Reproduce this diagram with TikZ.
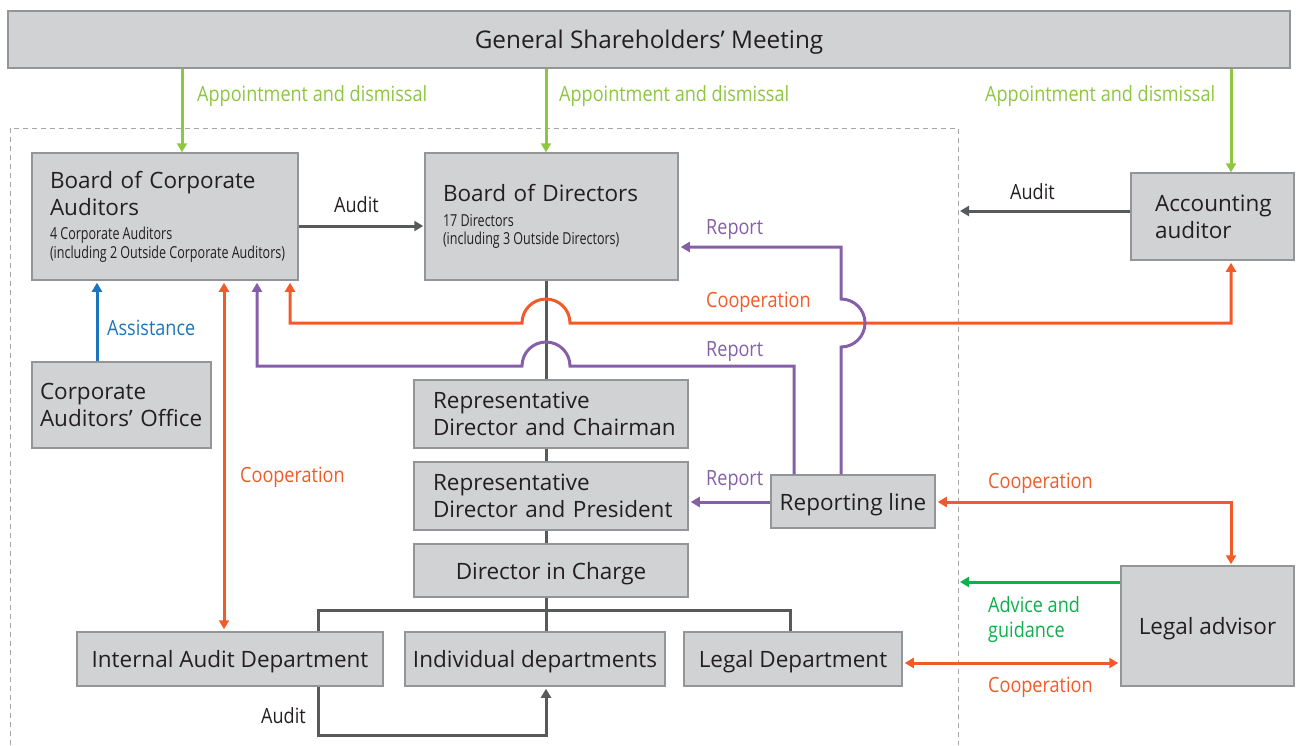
\documentclass[tikz,border=0pt]{standalone}
\usepackage{fontspec}
\setmainfont{Open Sans}
\newfontfamily\cond[FakeStretch=0.86]{Open Sans}
\newfontfamily\condsm[FakeStretch=0.76]{Open Sans}
\usetikzlibrary{arrows.meta}
\definecolor{boxfill}{HTML}{D1D2D4}
\definecolor{boxline}{HTML}{939598}
\definecolor{lgreen}{HTML}{8DC63F}
\definecolor{dgreen}{HTML}{0DB04B}
\definecolor{orng}{HTML}{F15A29}
\definecolor{purp}{HTML}{8560A8}
\definecolor{blu}{HTML}{1C75BC}
\definecolor{dgray}{HTML}{58595B}
\definecolor{txt}{HTML}{231F20}
\newcommand{\smallinfo}[1]{\par\vspace{6pt}{\condsm\fontsize{16.5}{18.5}\selectfont\spaceskip=3.2pt plus 1pt minus 1pt\relax #1\par}}
\tikzset{
  box/.style={draw=boxline, fill=boxfill, line width=1.5pt, inner sep=0pt, text=txt,
    font=\fontsize{22.5}{27}\selectfont},
  sbox/.style={box, text depth=0pt},
  conn/.style={line width=3pt},
  tip/.style={-{Triangle[length=9pt,width=10pt]}},
  tips/.style={{Triangle[length=9pt,width=10pt]}-{Triangle[length=9pt,width=10pt]}},
  lbl/.style={anchor=west, inner sep=0pt, font=\cond\fontsize{21}{26}\selectfont},
}
\begin{document}
\begin{tikzpicture}[x=1pt,y=-1pt]
\useasboundingbox (0,0) rectangle (1298,745);
% dashed frame
\draw[gray!70, line width=1pt, dash pattern=on 5pt off 4pt] (10,745) -- (10,128) -- (958,128) -- (958,745);

% boxes
\node[sbox, minimum width=1282pt, minimum height=57pt, font=\fontsize{24.3}{28}\selectfont] (gsm) at (649,39.5) {General Shareholders’ Meeting};
\node[box, minimum width=266pt, minimum height=127pt, text width=230pt, align=left] (cba) at (165,216.5)
  {Board of Corporate\\Auditors\smallinfo{4 Corporate Auditors\\\mbox{(including 2 Outside Corporate Auditors)}}};
\node[box, minimum width=253pt, minimum height=127pt, text width=217pt, align=left] (bod) at (551.5,216.5)
  {Board of Directors\smallinfo{17 Directors\\\mbox{(including 3 Outside Directors)}}};
\node[box, minimum width=163pt, minimum height=87pt, text width=115pt, align=left] (acc) at (1212.5,216.5)
  {Accounting\\auditor};
\node[box, minimum width=179pt, minimum height=86pt, text width=163pt, align=left] (cao) at (121.5,405)
  {Corporate\\\mbox{Auditors’ Office}};
\node[box, minimum width=274pt, minimum height=68pt, text width=236pt, align=left] (chair) at (551,414)
  {Representative\\\mbox{Director and Chairman}};
\node[box, minimum width=274pt, minimum height=68pt, text width=236pt, align=left] (pres) at (551,496)
  {Representative\\\mbox{Director and President}};
\node[sbox, minimum width=274pt, minimum height=53pt] (dic) at (551,570.5) {Director in Charge};
\node[sbox, minimum width=164pt, minimum height=53pt] (rep) at (853,501.5) {Reporting line};
\node[sbox, minimum width=306pt, minimum height=54pt] (iad) at (230,659) {Internal Audit Department};
\node[sbox, minimum width=260pt, minimum height=54pt] (ind) at (535,659) {Individual departments};
\node[sbox, minimum width=218pt, minimum height=54pt] (ldep) at (793,659) {Legal Department};
\node[sbox, minimum width=173pt, minimum height=120pt] (ladv) at (1207.5,626) {Legal advisor};

% helper coordinates
\coordinate (x97) at (97,0);
\coordinate (x182) at (182,0);
\coordinate (x224) at (224,0);
\coordinate (x257) at (257,0);
\coordinate (x290) at (290,0);
\coordinate (x318) at (318,0);
\coordinate (x546) at (546,0);
\coordinate (x790) at (790,0);
\coordinate (x794) at (794,0);
\coordinate (x841) at (841,0);
\coordinate (x1231) at (1231,0);
\coordinate (auditL) at (960,211);
\coordinate (adviceL) at (960,582);

% green appointment arrows
\draw[conn, lgreen, tip] (gsm.south -| x182) -- (cba.north -| x182);
\draw[conn, lgreen, tip] (gsm.south -| x546) -- (bod.north -| x546);
\draw[conn, lgreen, tip] (gsm.south -| x1231) -- (acc.north -| x1231);
\node[lbl, lgreen] at (197,96) {Appointment and dismissal};
\node[lbl, lgreen] at (559,96) {Appointment and dismissal};
\node[lbl, lgreen] at (985,96) {Appointment and dismissal};

% gray trunk
\draw[conn, dgray] (bod.south -| x546) -- (chair.north -| x546);
\draw[conn, dgray] (chair.south -| x546) -- (pres.north -| x546);
\draw[conn, dgray] (pres.south -| x546) -- (dic.north -| x546);
\draw[conn, dgray] (dic.south -| x546) -- (ind.north -| x546);
\draw[conn, dgray] (iad.north -| x318) -- (318,610) -- (790,610) -- (ldep.north -| x790);

% audit arrows
\draw[conn, dgray, tip, shorten >=1pt] (cba.east |- 0,226) -- (bod.west |- 0,226);
\node[lbl, text=txt] at (334,205) {Audit};
\draw[conn, dgray, tip] (acc.west |- auditL) -- (auditL);
\node[lbl, text=txt] at (1010,192) {Audit};
\draw[conn, dgray, tip, shorten >=2pt] (iad.south -| x318) -- (318,735) -- (546,735) -- (ind.south -| x546);
\node[lbl, text=txt] at (261,716) {Audit};

% assistance
\draw[conn, blu, tip, shorten >=2pt] (cao.north -| x97) -- (cba.south -| x97);
\node[lbl, blu] at (107,328) {Assistance};

% cooperation CBA - IAD
\draw[conn, orng, tips, shorten >=2pt, shorten <=2pt] (cba.south -| x224) -- (iad.north -| x224);
\node[lbl, orng] at (240,477) {Cooperation};

% cooperation CBA - accounting auditor (with hop)
\draw[conn, orng, tips, shorten >=2pt, shorten <=2pt] (cba.south -| x290) -- (290,323) -- (522,323)
  arc[start angle=180, end angle=360, radius=24] -- (1231,323) -- (acc.south -| x1231);
\node[lbl, orng] at (706,302) {Cooperation};

% report to BoD (hop over orange)
\draw[conn, purp, tip, shorten >=2pt] (rep.north -| x841) -- (841,347)
  arc[start angle=90, end angle=-90, radius=24] -- (841,247) -- (bod.east |- 0,247);
\node[lbl, purp] at (706,230) {Report};

% report to CBA (hop over trunk)
\draw[conn, purp, tip, shorten >=2pt] (rep.north -| x794) -- (794,366) -- (570,366)
  arc[start angle=0, end angle=-180, radius=24] -- (257,366) -- (cba.south -| x257);
\node[lbl, purp] at (706,352) {Report};

% report to president
\draw[conn, purp, tip, shorten >=2pt] (rep.west |- 0,502) -- (pres.east |- 0,502);
\node[lbl, purp] at (706,481) {Report};

% cooperation legal advisor - reporting line
\draw[conn, orng, tips, shorten >=1pt, shorten <=2pt] (rep.east |- 0,502) -- (1231,502) -- (ladv.north -| x1231);
\node[lbl, orng] at (988,483) {Cooperation};

% advice and guidance
\draw[conn, dgreen, tip] (ladv.west |- adviceL) -- (adviceL);
\node[lbl, dgreen] at (988,605) {Advice and};
\node[lbl, dgreen] at (988,632) {guidance};

% cooperation legal department - legal advisor
\draw[conn, orng, tips, shorten >=2pt, shorten <=2pt] (ldep.east |- 0,663) -- (ladv.west |- 0,663);
\node[lbl, orng] at (988,687) {Cooperation};
\end{tikzpicture}
\end{document}
